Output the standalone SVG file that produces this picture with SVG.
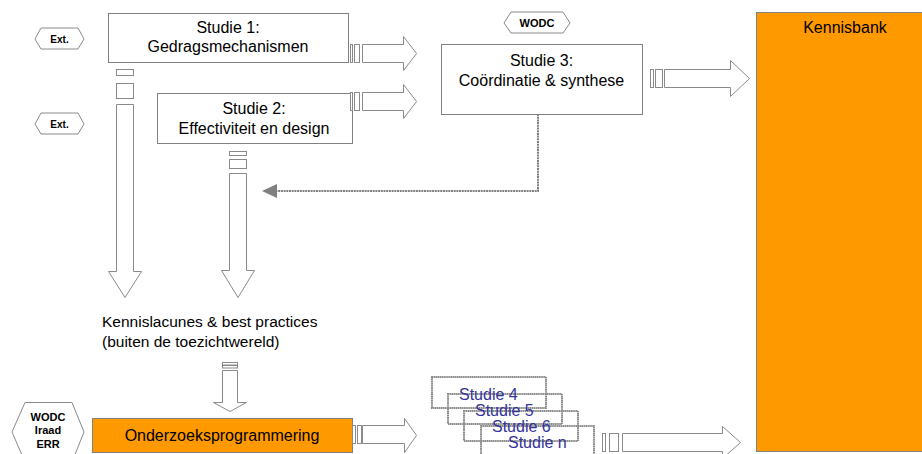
<svg xmlns="http://www.w3.org/2000/svg" width="922" height="454" viewBox="0 0 922 454">
<style>
.box{fill:#ffffff;stroke:#808080;stroke-width:1}
.org{fill:#ff9900;stroke:#808080;stroke-width:1}
.blk{fill:#ffffff;stroke:#8a8a8a;stroke-width:1}
.hex{fill:#ffffff;stroke:#8a8a8a;stroke-width:1}
.stk{fill:none;stroke:#8c8c8c;stroke-width:2;stroke-dasharray:1.5 0.4}
.t{font-family:"Liberation Sans",Arial,sans-serif;font-size:16px;fill:#000;text-anchor:middle}
.tb{font-family:"Liberation Sans",Arial,sans-serif;font-weight:bold;fill:#000;text-anchor:middle}
.tl{font-family:"Liberation Sans",Arial,sans-serif;font-size:16px;fill:#333399}
</style>
<rect width="922" height="454" fill="#ffffff"/>

<g id="kennisbank">
<rect class="org" x="756.5" y="12.5" width="170" height="439"/>
<text class="t" x="845" y="33">Kennisbank</text>
</g>

<g id="ext1">
<polygon class="hex" points="35,39 41,28 78,28 84,39 78,49 41,49"/>
<text class="tb" x="59.5" y="42.5" font-size="10">Ext.</text>
</g>
<g id="ext2">
<polygon class="hex" points="35,124 41,113 78,113 84,124 78,134 41,134"/>
<text class="tb" x="59.5" y="127.5" font-size="10">Ext.</text>
</g>
<g id="wodc-top">
<polygon class="hex" points="504,23 511,12 563,12 570,23 563,33 511,33"/>
<text class="tb" x="537" y="27" font-size="11">WODC</text>
</g>

<g id="studie1">
<rect class="box" x="108.5" y="13.5" width="240" height="49"/>
<text class="t" x="228" y="33">Studie 1:</text>
<text class="t" x="228" y="52">Gedragsmechanismen</text>
</g>
<g id="studie2">
<rect class="box" x="157.5" y="93.5" width="195" height="50"/>
<text class="t" x="254" y="114">Studie 2:</text>
<text class="t" x="254" y="134">Effectiviteit en design</text>
</g>
<g id="studie3">
<rect class="box" x="441.5" y="44.5" width="201" height="70"/>
<text class="t" x="541.5" y="66">Studie 3:</text>
<text class="t" x="541.5" y="86">Coördinatie &amp; synthese</text>
</g>

<g id="kennislacunes">
<text class="t" x="102" y="327" style="text-anchor:start;font-size:15.5px">Kennislacunes &amp; best practices</text>
<text class="t" x="102" y="347" style="text-anchor:start;font-size:15.5px">(buiten de toezichtwereld)</text>
</g>

<g id="wodc-bottom">
<polygon class="hex" points="12,432 25,402.5 72,402.5 84,432 72,462 25,462"/>
<text class="tb" x="48" y="421" font-size="11">WODC</text>
<text class="tb" x="48" y="434" font-size="11">Iraad</text>
<text class="tb" x="48" y="448" font-size="11">ERR</text>
</g>

<g id="onderzoeksprogrammering">
<rect class="org" x="92.5" y="418.5" width="260" height="34"/>
<text class="t" x="222" y="441">Onderzoeksprogrammering</text>
</g>

<g id="studies">
<rect class="stk" x="432" y="377" width="114" height="31"/>
<rect class="stk" x="448" y="394" width="114" height="30"/>
<rect class="stk" x="464" y="411" width="114" height="30"/>
<rect class="stk" x="481" y="426" width="113" height="40"/>
<text class="tl" x="459" y="400">Studie 4</text>
<text class="tl" x="475" y="416">Studie 5</text>
<text class="tl" x="492" y="432">Studie 6</text>
<text class="tl" x="508" y="448">Studie n</text>
</g>

<g id="connectors">
<rect class="blk" x="350.5" y="44.5" width="2" height="18"/>
<rect class="blk" x="354.5" y="44.5" width="5" height="18"/>
<path class="blk" d="M362.5,44.5 H403.5 V36.5 L416.5,53.5 L403.5,70.5 V62.5 H362.5 Z"/>
<rect class="blk" x="350.5" y="92.5" width="2" height="18"/>
<rect class="blk" x="354.5" y="92.5" width="5" height="18"/>
<path class="blk" d="M362.5,92.5 H403.5 V84.5 L416.5,101.5 L403.5,118.5 V110.5 H362.5 Z"/>
<rect class="blk" x="650.5" y="69.5" width="3" height="18"/>
<rect class="blk" x="655.5" y="69.5" width="7" height="18"/>
<path class="blk" d="M664.5,69.5 H730.5 V60.5 L749.5,78.5 L730.5,96.5 V87.5 H664.5 Z"/>
<rect class="blk" x="116.5" y="69.5" width="17" height="6"/>
<rect class="blk" x="116.5" y="83.5" width="17" height="15"/>
<path class="blk" d="M116.5,104.5 H133.5 V271.5 H141.5 L125,297.5 L108.5,271.5 H116.5 Z"/>
<rect class="blk" x="229.5" y="151.5" width="17" height="4"/>
<rect class="blk" x="229.5" y="159.5" width="17" height="9"/>
<path class="blk" d="M229.5,173.5 H246.5 V270.5 H254.5 L238,297.5 L221.5,270.5 H229.5 Z"/>
<rect class="blk" x="222.5" y="362.5" width="15" height="2.5"/>
<rect class="blk" x="222.5" y="365.5" width="15" height="2.5"/>
<path class="blk" d="M222.5,370.5 H237.5 V402.5 H246.5 L230,411.5 L213.5,402.5 H222.5 Z"/>
<path d="M538,114 V191 H276" fill="none" stroke="#808080" stroke-width="2" stroke-dasharray="2 0.7"/>
<polygon points="262,191 277,184 277,198" fill="#808080"/>
<rect class="blk" x="352.5" y="425.5" width="3" height="18"/>
<rect class="blk" x="357.5" y="425.5" width="4" height="18"/>
<path class="blk" d="M362.5,425.5 H404.5 V418.5 L416.5,435.5 L404.5,452.5 V443.5 H362.5 Z"/>
<rect class="blk" x="602.5" y="433.5" width="3" height="18"/>
<rect class="blk" x="609.5" y="433.5" width="9" height="18"/>
<path class="blk" d="M622.5,433.5 H722.5 V426.5 L740.5,442.5 L722.5,458.5 V451.5 H622.5 Z"/>
</g>
</svg>
